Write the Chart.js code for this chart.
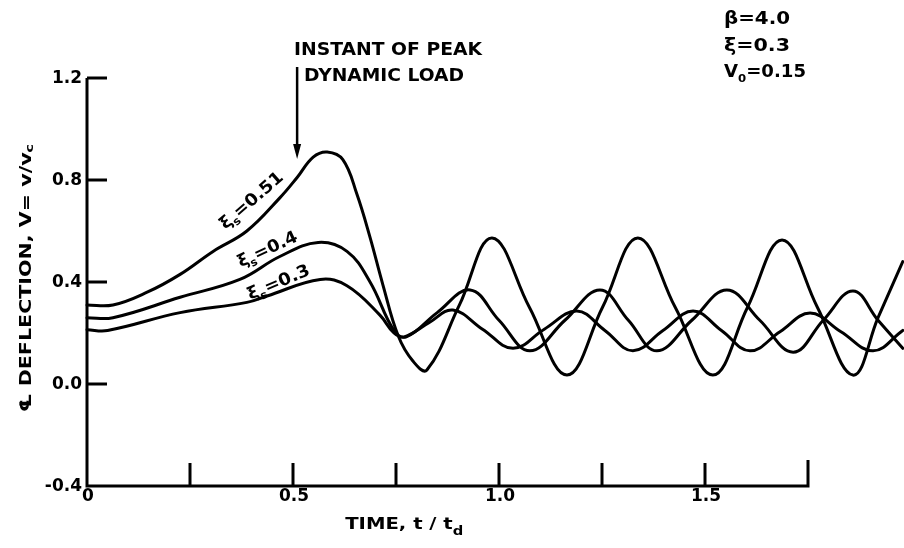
<!DOCTYPE html>
<html>
<head>
<meta charset="utf-8">
<script src="https://cdn.jsdelivr.net/npm/chart.js@4/dist/chart.umd.min.js"></script>
<style>
html,body{margin:0;padding:0;background:#fff;}
#wrap{width:904px;height:548px;position:relative;}
canvas{display:block;}
</style>
</head>
<body>
<div id="wrap"><canvas id="c" width="904" height="548"></canvas></div>
<script>
// ---- data ----
const seriesLabels = ['0.51', '0.4', '0.3'];

const timeA = [0, 0.063, 0.146, 0.226, 0.306, 0.388, 0.468, 0.510, 0.549, 0.583, 0.621, 0.655, 0.687, 0.718, 0.755, 0.791, 0.825, 0.904, 0.983, 1.074, 1.165, 1.251, 1.337, 1.428, 1.519, 1.603, 1.687, 1.773, 1.859, 1.92, 1.98];
const defA  = [0.31, 0.31, 0.36, 0.43, 0.52, 0.60, 0.73, 0.81, 0.89, 0.91, 0.88, 0.745, 0.575, 0.39, 0.19, 0.09, 0.055, 0.31, 0.573, 0.30, 0.035, 0.30, 0.573, 0.30, 0.035, 0.30, 0.565, 0.30, 0.035, 0.26, 0.48];

const timeB = [0, 0.063, 0.226, 0.371, 0.468, 0.561, 0.631, 0.687, 0.745, 0.775, 0.85, 0.93, 1.00, 1.075, 1.16, 1.245, 1.314, 1.383, 1.468, 1.553, 1.633, 1.714, 1.787, 1.859, 1.92, 1.98];
const defB  = [0.26, 0.26, 0.34, 0.41, 0.50, 0.555, 0.52, 0.40, 0.21, 0.185, 0.28, 0.369, 0.25, 0.13, 0.25, 0.369, 0.25, 0.13, 0.25, 0.369, 0.25, 0.125, 0.25, 0.365, 0.25, 0.14];

const timeC = [0, 0.05, 0.226, 0.388, 0.437, 0.566, 0.631, 0.711, 0.745, 0.77, 0.83, 0.888, 0.96, 1.034, 1.11, 1.189, 1.257, 1.325, 1.398, 1.471, 1.54, 1.609, 1.682, 1.755, 1.83, 1.908, 1.98];
const defC  = [0.213, 0.21, 0.28, 0.32, 0.345, 0.41, 0.385, 0.27, 0.20, 0.185, 0.24, 0.29, 0.215, 0.14, 0.215, 0.286, 0.21, 0.13, 0.21, 0.286, 0.21, 0.13, 0.205, 0.278, 0.205, 0.13, 0.21];

const yTickValues = [1.2, 0.8, 0.4, 0.0, -0.4];
const yTickLabels = ['1.2', '0.8', '0.4', '0.0', '-0.4'];
const xTickMarks  = [0.25, 0.5, 0.75, 1.0, 1.25, 1.5];
const xTickLabelValues = [0, 0.5, 1.0, 1.5];
const xTickLabels = ['0', '0.5', '1.0', '1.5'];
const xAxisEnd = 1.75;
const peakLoadTime = 0.51;

// ---- build datasets ----
function pts(ts, vs){ return ts.map((t,i)=>({x:t, y:vs[i]})); }
const lineStyle = {borderColor:'#000', borderWidth:3, pointRadius:0, fill:false, tension:0.4, clip:false, borderJoinStyle:'round', borderCapStyle:'round'};
const datasets = [
  Object.assign({label:seriesLabels[0], data:pts(timeA, defA)}, lineStyle),
  Object.assign({label:seriesLabels[1], data:pts(timeB, defB)}, lineStyle),
  Object.assign({label:seriesLabels[2], data:pts(timeC, defC)}, lineStyle)
];

const FONT = '"DejaVu Sans", "Liberation Sans", sans-serif';

// draw a list of segments [{t, size, dy}] starting at (x,y) baseline-middle, scaled to width w
function drawSegs(ctx, segs, x, y, w, align){
  let nat = 0;
  segs.forEach(s=>{ ctx.font = 'bold '+s.size+'px '+FONT; s.w = ctx.measureText(s.t).width; nat += s.w; });
  const sx = w ? w/nat : 1;
  const total = nat*sx;
  let x0 = x;
  if (align === 'center') x0 = x - total/2;
  else if (align === 'right') x0 = x - total;
  ctx.save();
  ctx.translate(x0, y);
  ctx.scale(sx, 1);
  ctx.textBaseline = 'middle';
  ctx.textAlign = 'left';
  let cx = 0;
  segs.forEach(s=>{ ctx.font = 'bold '+s.size+'px '+FONT; ctx.fillText(s.t, cx, s.dy||0); cx += s.w; });
  ctx.restore();
}

const decor = {
  id:'decor',
  afterDraw(chart){
    const ctx = chart.ctx, xs = chart.scales.x, ys = chart.scales.y;
    const X = v=>xs.getPixelForValue(v), Y = v=>ys.getPixelForValue(v);
    ctx.save();
    ctx.strokeStyle = '#000'; ctx.fillStyle = '#000'; ctx.lineWidth = 3; ctx.lineCap = 'butt'; ctx.lineJoin='miter';
    const x0 = X(0), yb = Y(-0.4), xe = X(xAxisEnd);
    // axes
    ctx.beginPath();
    ctx.moveTo(x0, Y(1.2)); ctx.lineTo(x0, yb); ctx.lineTo(xe, yb); ctx.lineTo(xe, yb-26);
    ctx.stroke();
    // y ticks
    yTickValues.forEach(v=>{ if (v > -0.4){ ctx.beginPath(); ctx.moveTo(x0, Y(v)); ctx.lineTo(x0+20, Y(v)); ctx.stroke(); } });
    // x ticks
    xTickMarks.forEach(t=>{ ctx.beginPath(); ctx.moveTo(X(t), yb); ctx.lineTo(X(t), yb-23); ctx.stroke(); });
    // y tick labels
    yTickValues.forEach((v,i)=>{ drawSegs(ctx, [{t:yTickLabels[i], size:17}], x0-5, Y(v)+1, null, 'right'); });
    // x tick labels
    xTickLabelValues.forEach((t,i)=>{ drawSegs(ctx, [{t:xTickLabels[i], size:17}], X(t)+1, yb+11, null, 'center'); });
    // x title
    drawSegs(ctx, [{t:'TIME, t / t', size:16},{t:'d', size:12, dy:7}], X(0.77), 525, 118, 'center');
    // y title (rotated)
    ctx.save();
    ctx.translate(27, 0);
    ctx.rotate(-Math.PI/2);
    drawSegs(ctx, [{t:'\u2104 DEFLECTION, V= v/v', size:16},{t:'c', size:11, dy:3}], -412, 0, 268, 'left');
    ctx.restore();
    // annotation: instant of peak dynamic load
    drawSegs(ctx, [{t:'INSTANT OF PEAK', size:17}], 294, 51, 188, 'left');
    drawSegs(ctx, [{t:'DYNAMIC LOAD', size:17}], 304, 77, 160, 'left');
    const ax = X(peakLoadTime);
    ctx.lineWidth = 2.5;
    ctx.beginPath(); ctx.moveTo(ax, 67); ctx.lineTo(ax, 146); ctx.stroke();
    ctx.beginPath(); ctx.moveTo(ax-4, 144); ctx.lineTo(ax+4, 144); ctx.lineTo(ax, 159); ctx.closePath(); ctx.fill();
    // parameters
    drawSegs(ctx, [{t:'\u03B2=4.0', size:17}], 724, 20, 66, 'left');
    drawSegs(ctx, [{t:'\u03BE=0.3', size:17}], 724, 47, 66, 'left');
    drawSegs(ctx, [{t:'V', size:17},{t:'0', size:11, dy:6},{t:'=0.15', size:17}], 724, 73, 82, 'left');
    // curve labels (rotated)
    const lab = (txt, cx, cy, ang, w)=>{
      ctx.save(); ctx.translate(cx, cy); ctx.rotate(ang*Math.PI/180);
      drawSegs(ctx, [{t:'\u03BE', size:17},{t:'s', size:11, dy:6},{t:'=' + txt, size:17}], 0, 0, w, 'center');
      ctx.restore();
    };
    lab(seriesLabels[0], 252, 201, -41, 78);
    lab(seriesLabels[1], 268, 250, -25, 64);
    lab(seriesLabels[2], 279, 283, -23, 66);
    ctx.restore();
  }
};

new Chart(document.getElementById('c'), {
  type:'line',
  data:{datasets},
  options:{
    responsive:false,
    animation:false,
    layout:{padding:{left:87, right:0, top:78, bottom:62}},
    plugins:{legend:{display:false}, tooltip:{enabled:false}, title:{display:false}},
    scales:{
      x:{type:'linear', min:0, max:1.983, display:false},
      y:{type:'linear', min:-0.4, max:1.2, display:false}
    }
  },
  plugins:[decor]
});
</script>
</body>
</html>
